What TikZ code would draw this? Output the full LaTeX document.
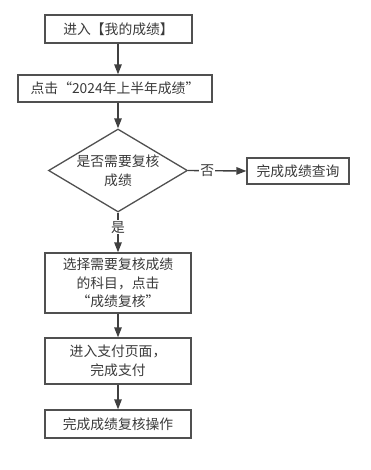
\documentclass[tikz,border=0pt]{standalone}
\usepackage{fontspec}
\setmainfont{Noto Sans CJK SC}
\usetikzlibrary{shapes.geometric,arrows.meta}
\definecolor{edgec}{HTML}{404040}
\definecolor{boxc}{HTML}{505050}
\definecolor{txtc}{HTML}{3A3A3A}
\begin{document}
\begin{tikzpicture}[x=1pt,y=-1pt,
  every node/.style={font=\fontsize{13.8}{18.5}\selectfont, text=txtc},
  stepbox/.style={draw=boxc, line width=1.3pt, rectangle, inner sep=0pt, align=center},
  decide/.style={draw=boxc, line width=1.3pt, diamond, inner sep=0pt, align=center},
  flow/.style={draw=edgec, line width=1.4pt, -{Triangle[length=10pt,width=7.5pt]}},
  lbl/.style={fill=white, inner sep=1pt}
]
\useasboundingbox (0,0) rectangle (370,470);
\node[stepbox, minimum width=147pt, minimum height=28pt] (b1) at (118.5,29) {进入【我的成绩】};
\node[stepbox, minimum width=194pt, minimum height=27pt] (b2) at (115,88.5) {点击“2024年上半年成绩”};
\node[decide, minimum width=139pt, minimum height=83pt] (d) at (118,170.5) {};
\node[align=center] (dt) at (118,171) {是否需要复核\\成绩};
\node[stepbox, minimum width=102pt, minimum height=26pt] (r) at (298,171) {完成成绩查询};
\node[stepbox, minimum width=146pt, minimum height=60pt] (b3) at (118,283) {选择需要复核成绩\\的科目，点击\\“成绩复核”};
\node[stepbox, minimum width=146pt, minimum height=46pt] (b4) at (118,361) {进入支付页面，\\完成支付};
\node[stepbox, minimum width=146pt, minimum height=28pt] (b5) at (118,424) {完成成绩复核操作};
\draw[flow] (b1.south -| d.north) -- (d.north |- b2.north);
\draw[flow] (b2.south -| d.north) -- (d.north);
\draw[flow] (d.east) -- node[lbl, pos=0.33] (no) {否} (r.west);
\draw[flow] (d.south) -- node[lbl, pos=0.37] (yes) {是} (b3.north -| d.south);
\draw[flow] (b3.south -| d.south) -- (b4.north -| d.south);
\draw[flow] (b4.south -| d.south) -- (b5.north -| d.south);
\end{tikzpicture}
\end{document}
